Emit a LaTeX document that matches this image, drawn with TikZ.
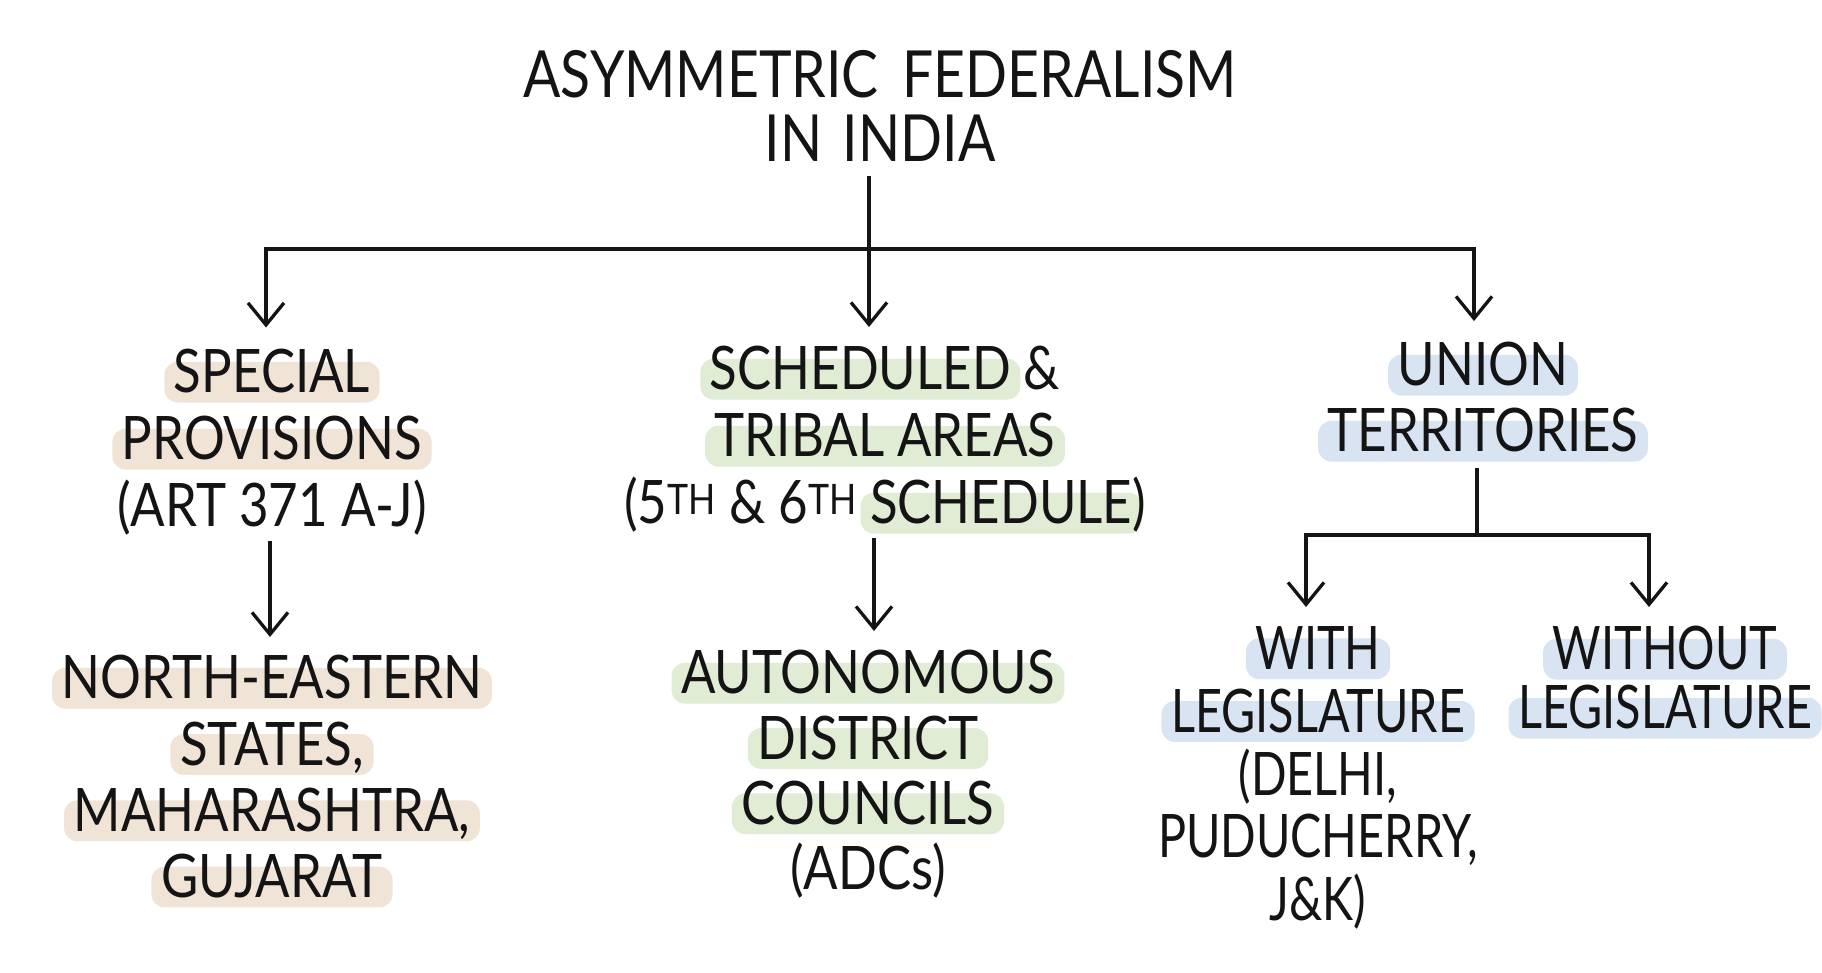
\documentclass[tikz,border=0pt]{standalone}
\usepackage{fontspec}
\setmainfont{Lato}[FakeStretch=0.85]
\newfontfamily\narrowfont{Lato}[FakeStretch=0.78]
\usetikzlibrary{arrows.meta}
\definecolor{hlbeige}{HTML}{EFE4D6}
\definecolor{hlgreen}{HTML}{E0EDD4}
\definecolor{hlblue}{HTML}{D8E4F1}
\definecolor{ink}{HTML}{141414}
\newlength\hlw
\newcommand\hlt[2]{\settowidth\hlw{#2}\tikz[overlay]{\fill[#1, rounded corners=0.22em] (-0.16em,-0.16em) rectangle (\hlw+0.16em,0.52em);}#2}
\tikzset{
  txt/.style={inner sep=0pt, outer sep=0pt, anchor=north, align=center, text=ink,
    font=\fontsize{60}{67}\selectfont},
  ttl/.style={txt, font=\fontsize{65}{64}\selectfont},
  sub/.style={txt, font=\fontsize{60}{62.75}\selectfont},
  ln/.style={draw=ink, line width=3.3pt, line join=miter},
  arr/.style={ln, -{Straight Barb[length=22pt,width=36pt]}},
}
\begin{document}
\begin{tikzpicture}[x=1pt,y=-1pt]
\fill[white] (0,0) rectangle (1822,972);
\useasboundingbox (0,0) rectangle (1822,972);

\node[ttl] (title) at (880,50) {ASYMMETRIC\hspace{0.15em} FEDERALISM\\IN\hspace{0.1em} INDIA};

\node[txt] (sp) at (272,349.5) {\hlt{hlbeige}{SPECIAL}\\\hlt{hlbeige}{PROVISIONS}\\(ART 371 A-J)};
\node[txt] (sch) at (885,346.5) {\hlt{hlgreen}{SCHEDULED} \&\\\hlt{hlgreen}{TRIBAL AREAS}\\(5\textsuperscript{TH} \& 6\textsuperscript{TH} \hlt{hlgreen}{SCHEDULE})};
\node[txt, font=\fontsize{60}{66}\selectfont] (ut) at (1483,342.5) {\hlt{hlblue}{UNION}\\\hlt{hlblue}{TERRITORIES}};

\node[txt, font=\fontsize{60}{66.3}\selectfont] (ne) at (272,655.5) {\hlt{hlbeige}{NORTH-EASTERN}\\\hlt{hlbeige}{STATES,}\\\hlt{hlbeige}{MAHARASHTRA,}\\\hlt{hlbeige}{GUJARAT}};
\node[txt, font=\fontsize{60}{65.3}\selectfont] (adc) at (868,650.5) {\hlt{hlgreen}{AUTONOMOUS}\\\hlt{hlgreen}{DISTRICT}\\\hlt{hlgreen}{COUNCILS}\\(ADCs)};
\node[sub, font=\narrowfont\fontsize{60}{62.75}\selectfont] (wl) at (1318,626.5) {\hlt{hlblue}{WITH}\\\hlt{hlblue}{LEGISLATURE}\\(DELHI,\\PUDUCHERRY,\\J\&K)};
\node[sub, font=\narrowfont\fontsize{60}{59}\selectfont] (wol) at (1665,626.5) {\hlt{hlblue}{WITHOUT}\\\hlt{hlblue}{LEGISLATURE}};

\coordinate (bus) at (869,249);
\coordinate (busL) at (266,249);
\coordinate (busR) at (1474,249);
\draw[arr, shorten <=15pt, shorten >=19.5pt] (title.south -| bus) -- (sch.north -| bus);
\draw[arr, shorten >=22pt] (busR) -- (busL) -- (busL |- sp.north);
\draw[arr, shorten >=21.5pt] (busL) -- (busR) -- (busR |- ut.north);

\coordinate (spx) at (270,0);
\draw[arr, shorten <=5pt, shorten >=18.5pt] (sp.south -| spx) -- (ne.north -| spx);
\coordinate (schx) at (874,0);
\draw[arr, shorten <=5pt, shorten >=19.5pt] (sch.south -| schx) -- (adc.north -| schx);

\coordinate (utj) at (1477,535);
\coordinate (wlj) at (1306,535);
\coordinate (wolj) at (1649,535);
\draw[ln, shorten <=15.5pt] (ut.south -| utj) -- (utj);
\draw[arr, shorten >=19.5pt] (wolj) -- (wlj) -- (wlj |- wl.north);
\draw[arr, shorten >=19.5pt] (wlj) -- (wolj) -- (wolj |- wol.north);
\end{tikzpicture}
\end{document}
